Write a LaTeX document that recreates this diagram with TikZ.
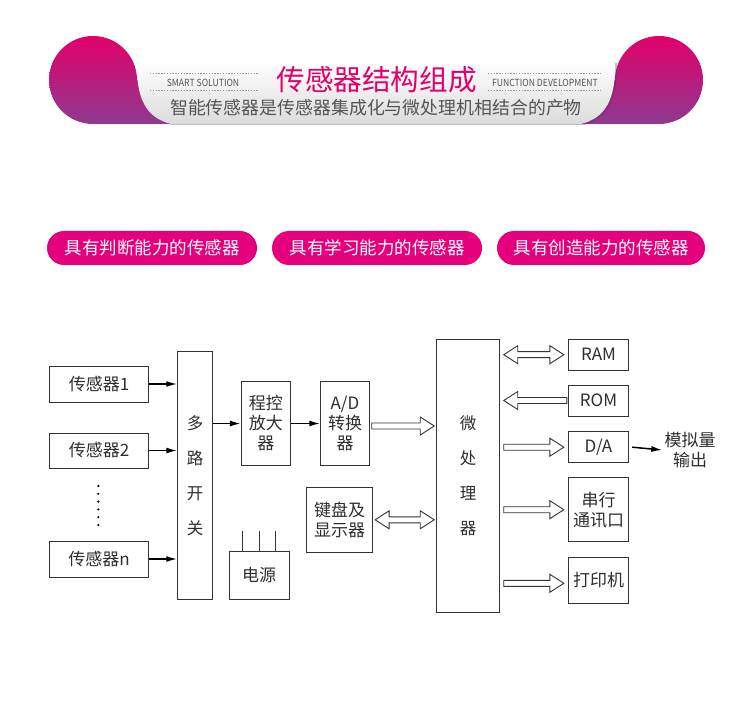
\documentclass[tikz,border=0pt]{standalone}
\usepackage{fontspec}
\setmainfont{Noto Sans CJK SC}
\usetikzlibrary{arrows.meta,calc}
\definecolor{pk}{HTML}{E4007C}
\definecolor{pkh}{HTML}{E2006A}
\definecolor{pkt}{HTML}{E2006A}
\definecolor{pu}{HTML}{8E3A90}
\definecolor{ln}{HTML}{333333}
\definecolor{tx}{HTML}{2E2E2E}
\definecolor{sub}{HTML}{555555}
\tikzset{
  blk/.style={draw=ln, line width=0.9pt, inner sep=0pt, align=center, text=tx,
    font=\fontsize{17}{20}\selectfont},
  tall/.style={blk, font=\fontsize{16.5}{35}\selectfont},
  pill/.style={fill=pk, rounded corners=17pt, minimum height=34pt, inner sep=0pt,
    text=white, font=\fontsize{17.5}{20}\selectfont},
  conn/.style={-{Latex[length=11pt,width=6pt]}, line width=1.5pt, draw=black},
  hol/.style={draw=ln, line width=0.9pt, fill=white, line join=miter},
  dotline/.style={draw=gray!80, line width=0.6pt, dash pattern=on 1.4pt off 1.4pt},
}
\newcommand\hollowR[2]{%
  \draw[hol] let \p1=(#1), \p2=(#2), \n1={ifthenelse(\x2>\x1,1,-1)} in
    (\x1,\y1+3pt) -- (\x2-\n1*14pt,\y1+3pt) -- (\x2-\n1*14pt,\y1+9pt) -- (\x2,\y1)
    -- (\x2-\n1*14pt,\y1-9pt) -- (\x2-\n1*14pt,\y1-3pt) -- (\x1,\y1-3pt) -- cycle;}
\newcommand\hollowD[2]{%
  \draw[hol] let \p1=(#1), \p2=(#2) in
    (\x1,\y1) -- (\x1+14pt,\y1+9pt) -- (\x1+14pt,\y1+3pt) -- (\x2-14pt,\y1+3pt)
    -- (\x2-14pt,\y1+9pt) -- (\x2,\y1) -- (\x2-14pt,\y1-9pt) -- (\x2-14pt,\y1-3pt)
    -- (\x1+14pt,\y1-3pt) -- (\x1+14pt,\y1-9pt) -- cycle;}
\begin{document}
\begin{tikzpicture}[x=1pt,y=-1pt]
\useasboundingbox[fill=white] (0,0) rectangle (750,711);
% ---------- header ----------
\shade[top color=pkh, bottom color=pu]
  (182,124) -- (93,124) arc[start angle=90, end angle=360, radius=44] -- (182,80) -- cycle;
\shade[top color=pkh, bottom color=pu]
  (568,124) -- (659,124) arc[start angle=90, end angle=-180, radius=44] -- (568,80) -- cycle;
\fill[pu!70!black, opacity=0.35]
  (139,63) -- (617,63) .. controls (618,100) and (607,119) .. (584,125)
  -- (172,125) .. controls (146,119) and (138,100) .. (139,63) -- cycle;
\shade[top color=white, bottom color=gray!28]
  (137,62) -- (615,62) .. controls (616,100) and (605,118) .. (581,124)
  -- (171,124) .. controls (147,118) and (136,100) .. (137,62) -- cycle;
\draw[dotline] (150,73) -- (258,73);
\draw[dotline] (150,90) -- (258,90);
\draw[dotline] (488,73) -- (602,73);
\draw[dotline] (488,90) -- (602,90);
\node[text=sub, font=\fontsize{9.8}{10}\selectfont, xscale=0.88] (h1) at (203,82.5) {SMART SOLUTION};
\node[text=sub, font=\fontsize{9.8}{10}\selectfont, xscale=0.88] (h2) at (545,82.5) {FUNCTION DEVELOPMENT};
\node[text=pkt, font=\fontsize{28.6}{30}\selectfont, inner sep=0pt] (title) at (376.5,80) {传感器结构组成};
\node[text=sub, font=\fontsize{17.9}{20}\selectfont, inner sep=0pt] (subt) at (376,108) {智能传感器是传感器集成化与微处理机相结合的产物};
% ---------- pills ----------
\node[pill, minimum width=210pt] (p1) at (152,248) {具有判断能力的传感器};
\node[pill, minimum width=210pt] (p2) at (377,248) {具有学习能力的传感器};
\node[pill, minimum width=208pt] (p3) at (601,248) {具有创造能力的传感器};
% ---------- diagram ----------
\node[blk, minimum width=99pt, minimum height=36pt] (s1) at (99,384) {传感器1};
\node[blk, minimum width=99pt, minimum height=35pt] (s2) at (99,450.5) {传感器2};
\node[blk, minimum width=99pt, minimum height=36pt] (sn) at (99,559) {传感器n};
\foreach \k in {0,...,5} \fill[black] (98.3,486+7.8*\k) circle[radius=1.2];
\node[tall, minimum width=34.6pt, minimum height=247.6pt] (mux) at (195,475.5) {多\\路\\开\\关};
\node[blk, minimum width=49pt, minimum height=83.6pt] (amp) at (265.8,423.5) {程控\\放大\\器};
\node[blk, minimum width=59.7pt, minimum height=48.3pt] (pw) at (259.2,575.2) {电源};
\node[blk, minimum width=48.6pt, minimum height=83.6pt] (ad) at (345,423.5) {A/D\\转换\\器};
\node[blk, minimum width=66pt, minimum height=65pt] (kb) at (339.7,519.8) {键盘及\\显示器};
\node[tall, minimum width=62.6pt, minimum height=273.4pt] (mp) at (468,476) {微\\处\\理\\器};
\node[blk, minimum width=60.4pt, minimum height=30.7pt] (ram) at (598.5,354.7) {RAM};
\node[blk, minimum width=60.4pt, minimum height=31pt] (rom) at (598.5,400.5) {ROM};
\node[blk, minimum width=60.4pt, minimum height=31pt] (da) at (598.5,447.2) {D/A};
\node[blk, minimum width=60.4pt, minimum height=64pt] (sc) at (598.5,509.7) {串行\\通讯口};
\node[blk, minimum width=60.4pt, minimum height=46pt] (pr) at (598.5,580.3) {打印机};
\node[text=tx, align=center, inner sep=2pt, font=\fontsize{17}{20}\selectfont] (out) at (690,450) {模拟量\\输出};
% power pins
\foreach \dx in {-16.5,0,16.5}
  \draw[ln, line width=0.8pt] ($(pw.north)+(\dx,0)$) -- ++(0,-20);
% black arrows
\draw[conn] (s1.east) -- (s1.east -| mux.west);
\draw[conn] (s2.east) -- (s2.east -| mux.west);
\draw[conn] (sn.east) -- (sn.east -| mux.west);
\draw[conn] (amp.west -| mux.east) -- (amp.west);
\draw[conn] (amp.east) -- (ad.west);
\draw[conn] ($(da.east)+(3,0)$) -- (out.west);
% hollow arrows
\hollowR{$(ad.east)+(2,2.5)$}{$(ad.east -| mp.west)+(-2,2.5)$}
\hollowD{$(kb.east)+(2,0)$}{$(kb.east -| mp.west)+(-2,0)$}
\hollowD{$(ram.west -| mp.east)+(4,0)$}{$(ram.west)+(-4,0)$}
\hollowR{$(rom.west)+(-1,0)$}{$(rom.west -| mp.east)+(4,0)$}
\hollowR{$(da.west -| mp.east)+(4,0)$}{$(da.west)+(-4,0)$}
\hollowR{$(sc.west -| mp.east)+(4,0)$}{$(sc.west)+(-4,0)$}
\hollowR{$(pr.west -| mp.east)+(4,3)$}{$(pr.west)+(-4,3)$}
\end{tikzpicture}
\end{document}
